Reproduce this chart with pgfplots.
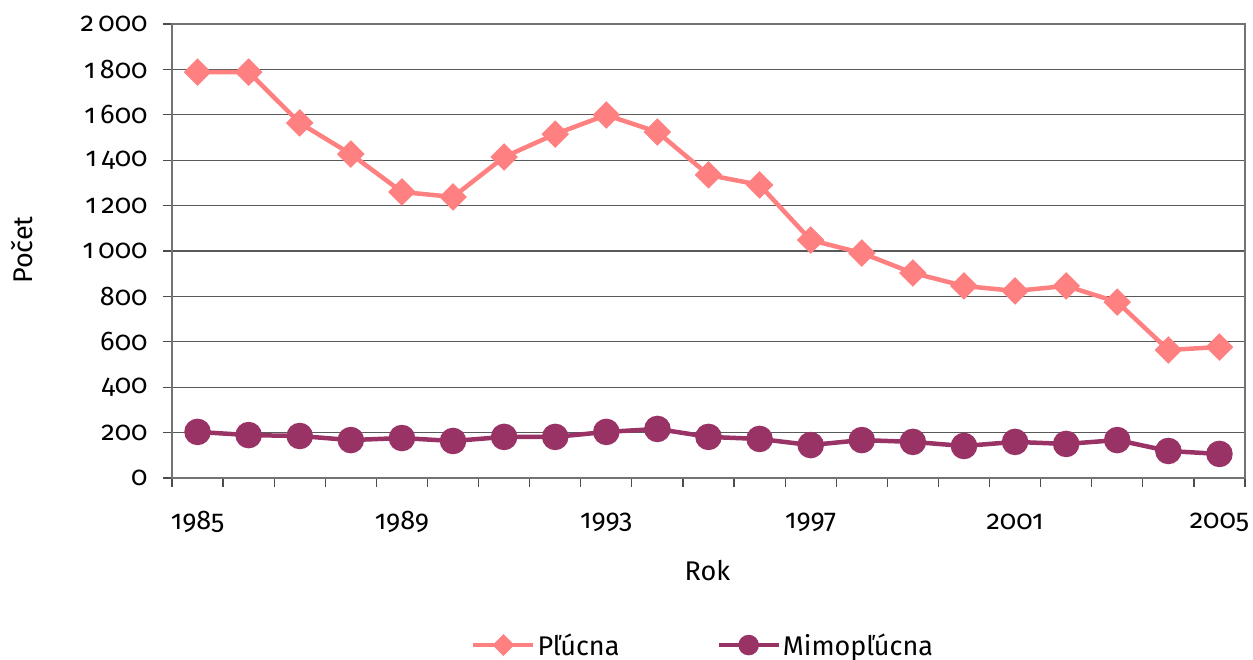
\documentclass[border=0pt]{standalone}
\usepackage{fontspec}
\setmainfont{Fira Sans}[Numbers=OldStyle]
\usepackage{pgfplots}
\pgfplotsset{compat=1.18}
\definecolor{pinkc}{RGB}{255,128,128}
\definecolor{plum}{RGB}{153,51,102}
\begin{document}
\begin{tikzpicture}[x=1bp,y=1bp]
\useasboundingbox (0,0) rectangle (1253,660);
\begin{axis}[
  at={(172bp,182bp)}, anchor=south west,
  scale only axis, width=1073bp, height=454bp,
  xmin=1984.5, xmax=2005.5, ymin=0, ymax=2000,
  font=\fontsize{27bp}{32bp}\selectfont,
  xtick={1984.5,1985.5,...,2005.5}, xticklabels={},
  extra x ticks={1985,1989,1993,1997,2001,2005},
  extra x tick labels={1985,1989,1993,1997,2001,2005},
  extra x tick style={major tick length=0pt, xmajorgrids=false, xticklabel style={anchor=center, yshift=-44bp}},
  ytick={0,200,...,2000},
  yticklabels={0,200,400,600,800,1\,000,1\,200,1\,400,1\,600,1\,800,2\,000},
  ymajorgrids, xmajorgrids=false,
  grid style={draw=black!65, line width=1.2bp},
  tick align=outside, major tick length=9bp,
  tick style={draw=black!70, line width=1.2bp},
  axis line style={draw=black!55, line width=2bp},
  xtick pos=bottom, ytick pos=left,
  yticklabel style={xshift=-12bp},
  xlabel={Rok}, ylabel={Počet},
  xlabel style={at={(axis description cs:0.499,-0.203)}, anchor=center},
  ylabel style={at={(axis description cs:-0.14,0.502)}, anchor=center, rotate=0},
  legend style={at={(0.495,-0.368)}, anchor=center, draw=none, fill=none,
    legend columns=2, /tikz/every even column/.append style={column sep=95bp},
    font=\fontsize{27bp}{32bp}\selectfont},
  clip=false,
]
\addplot[color=pinkc, line width=4.5bp, mark=square*, mark size=7.5bp, mark options={rotate=45, solid},
  legend image code/.code={\draw[mark repeat=2,mark phase=2, mark size=5.5bp] plot coordinates {(0bp,0bp)(30bp,0bp)(60bp,0bp)};}]
coordinates {
(1985,1788)(1986,1788)(1987,1564)(1988,1427)(1989,1260)(1990,1238)(1991,1414)
(1992,1515)(1993,1599)(1994,1524)(1995,1335)(1996,1291)(1997,1048)(1998,991)
(1999,903)(2000,846)(2001,824)(2002,846)(2003,775)(2004,564)(2005,577)};
\addlegendentry{Pľúcna}
\addplot[color=plum, line width=4.5bp, mark=*, mark size=11bp, mark options={solid},
  legend image code/.code={\draw[mark repeat=2,mark phase=2, mark size=8bp] plot coordinates {(0bp,0bp)(30bp,0bp)(60bp,0bp)};}]
coordinates {
(1985,203)(1986,189)(1987,185)(1988,167)(1989,176)(1990,163)(1991,181)
(1992,181)(1993,203)(1994,216)(1995,181)(1996,172)(1997,145)(1998,167)
(1999,159)(2000,141)(2001,159)(2002,150)(2003,167)(2004,119)(2005,106)};
\addlegendentry{Mimopľúcna}
\end{axis}
\end{tikzpicture}
\end{document}
